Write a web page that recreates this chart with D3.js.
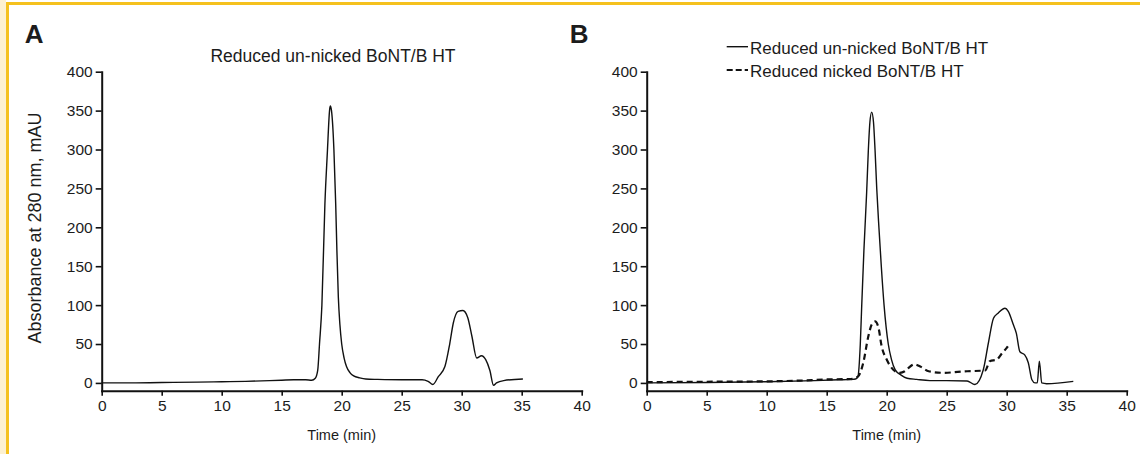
<!DOCTYPE html>
<html>
<head>
<meta charset="utf-8">
<script src="https://cdn.jsdelivr.net/npm/d3@7"></script>
<style>
  body { margin: 0; background: #fff; }
  svg text { font-family: 'Liberation Sans', Arial, Helvetica, sans-serif; fill: #1c1c1c; }
</style>
</head>
<body>
<script>
var xTicks = [0, 5, 10, 15, 20, 25, 30, 35, 40]
var yTicks = [0, 50, 100, 150, 200, 250, 300, 350, 400]

// panel A, reduced un-nicked (solid)
var unnickedA_t = [0, 2, 5, 8, 10, 12, 14, 15, 16, 17, 17.5, 17.8, 18.0, 18.15, 18.35, 18.6, 18.8, 19.0, 19.05, 19.15, 19.35, 19.5, 19.6, 19.72, 19.85, 20.0, 20.2, 20.4, 20.7, 21.0, 21.5, 22, 23, 25, 26.7, 27.2, 27.6, 28.05, 28.6, 29.0, 29.3, 29.7, 30.1, 30.5, 30.85, 31.25, 31.65, 32.0, 32.35, 32.65, 32.9, 33.5, 35.1]
var unnickedA_v = [0, 0, 0.5, 1, 1.5, 2, 3, 3.5, 4, 4, 3.5, 6, 16, 50, 100, 230, 295, 352, 356, 350, 300, 230, 170, 110, 75, 50, 32, 21, 13, 9, 6.5, 5, 4.5, 4, 4, 2, -2, 8, 21, 50, 77, 92, 93, 84, 60, 32, 35, 30, 16, -3, 0, 3, 5]

// panel B, reduced un-nicked (solid)
var unnickedB_t = [0, 5, 10, 14, 16, 17, 17.4, 17.6, 17.8, 17.92, 18.1, 18.33, 18.47, 18.6, 18.75, 18.9, 19.03, 19.17, 19.35, 19.55, 19.78, 20.13, 20.4, 20.7, 21.2, 21.7, 22.5, 23.6, 25, 26.7, 27.35, 28.05, 28.47, 28.9, 29.3, 29.86, 30.13, 30.55, 30.8, 31.1, 31.5, 31.8, 32.1, 32.36, 32.55, 32.72, 32.92, 33.33, 35.55]
var unnickedB_v = [0, 0.5, 1.5, 3, 4, 4.5, 5, 8, 50, 100, 170, 245, 299, 335, 348, 335, 299, 250, 200, 150, 100, 50, 30, 17, 10, 6, 4.5, 3, 3, 2.5, -2, 17, 51, 83, 90, 96, 92, 75, 64, 40, 36, 26, 4, 0, 0, 28, 0, -1, 2]

// panel B, reduced nicked (dashed)
var nickedB_t = [0, 5, 10, 12.8, 15, 17, 17.6, 18.05, 18.47, 18.75, 19.03, 19.3, 19.58, 20.0, 20.55, 21.1, 21.5, 21.8, 22.3, 22.8, 23.5, 24.7, 26.7, 28.2, 28.6, 29.17, 29.6, 30.0, 30.1]
var nickedB_v = [1, 1.5, 2, 3, 4.5, 5, 8, 26, 60, 75, 79, 72, 47, 30, 17, 13, 15, 19, 24, 21, 15, 13, 15, 16, 28, 30, 38, 45, 47]

var titleA = 'Reduced un-nicked BoNT/B HT'
var legendB = ['Reduced un-nicked BoNT/B HT', 'Reduced nicked BoNT/B HT']

var options = {
  width: 1140,
  height: 454,
  plotW: 480,
  top: 71.7,
  bottom: 390.7
}

var svg = d3.select('body').append('svg')
  .attr('width', options.width)
  .attr('height', options.height)

// yellow frame on the top and left edge
svg.append('rect').attr('x', 0).attr('y', 0).attr('width', 6).attr('height', options.height).attr('fill', '#fdf1d0')
svg.append('rect').attr('x', 6).attr('y', 2).attr('width', options.width - 6).attr('height', 3).attr('fill', '#f5c11e')
svg.append('rect').attr('x', 6).attr('y', 2).attr('width', 3).attr('height', options.height).attr('fill', '#f5c11e')

function zip(ts, vs) {
  return ts.map(function(t, i) { return { t: t, v: vs[i] } })
}

function drawPanel(ox, letter, series) {
  var x = d3.scaleLinear().domain([0, 40]).range([ox, ox + options.plotW])
  var y = d3.scaleLinear().domain([-10, 400]).range([options.bottom, options.top])

  var g = svg.append('g')

  var xAxis = g.append('g')
    .attr('transform', 'translate(0,' + options.bottom + ')')
    .call(d3.axisBottom(x).tickValues(xTicks).tickSize(5).tickSizeOuter(0).tickPadding(4))
  var yAxis = g.append('g')
    .attr('transform', 'translate(' + ox + ',0)')
    .call(d3.axisLeft(y).tickValues(yTicks).tickSize(6).tickSizeOuter(0).tickPadding(3))

  ;[xAxis, yAxis].forEach(function(a) {
    a.select('.domain').attr('stroke', '#111').attr('stroke-width', 2).attr('stroke-linecap', 'square')
    a.selectAll('.tick line').attr('stroke', '#111').attr('stroke-width', 1.6)
    a.selectAll('.tick text').style('font-size', '15.5px').attr('fill', '#1c1c1c')
  })

  var line = d3.line()
    .x(function(d) { return x(d.t) })
    .y(function(d) { return y(d.v) })
    .curve(d3.curveMonotoneX)

  series.forEach(function(s) {
    g.append('path')
      .datum(zip(s.t, s.v))
      .attr('d', line)
      .attr('fill', 'none')
      .attr('stroke', '#111')
      .attr('stroke-width', s.dashed ? 2.2 : 1.4)
      .attr('stroke-dasharray', s.dashed ? '6,4' : null)
  })

  g.append('text')
    .attr('x', x(20))
    .attr('y', 440)
    .attr('text-anchor', 'middle')
    .style('font-size', '14.5px')
    .text('Time (min)')

  g.append('text')
    .attr('x', ox - 77)
    .attr('y', 43)
    .style('font-size', '26px')
    .style('font-weight', 'bold')
    .attr('fill', '#000')
    .text(letter)

  return { x: x, y: y, g: g }
}

var pA = drawPanel(101.7, 'A', [{ t: unnickedA_t, v: unnickedA_v }])
var pB = drawPanel(646.7, 'B', [
  { t: unnickedB_t, v: unnickedB_v },
  { t: nickedB_t, v: nickedB_v, dashed: true }
])

// y label only on panel A
svg.append('text')
  .attr('transform', 'translate(41,228) rotate(-90)')
  .attr('text-anchor', 'middle')
  .style('font-size', '18px')
  .text('Absorbance at 280 nm, mAU')

// panel A title
pA.g.append('text')
  .attr('x', 333)
  .attr('y', 61.5)
  .attr('text-anchor', 'middle')
  .style('font-size', '17.5px')
  .text(titleA)

// panel B legend
legendB.forEach(function(name, i) {
  var yy = 46.7 + i * 23.3
  pB.g.append('line')
    .attr('x1', 726.7).attr('x2', 748)
    .attr('y1', yy).attr('y2', yy)
    .attr('stroke', '#111')
    .attr('stroke-width', i ? 2.2 : 1.4)
    .attr('stroke-dasharray', i ? '6,3' : null)
  pB.g.append('text')
    .attr('x', 750)
    .attr('y', yy + 7)
    .style('font-size', '17px')
    .text(name)
})
</script>
</body>
</html>
